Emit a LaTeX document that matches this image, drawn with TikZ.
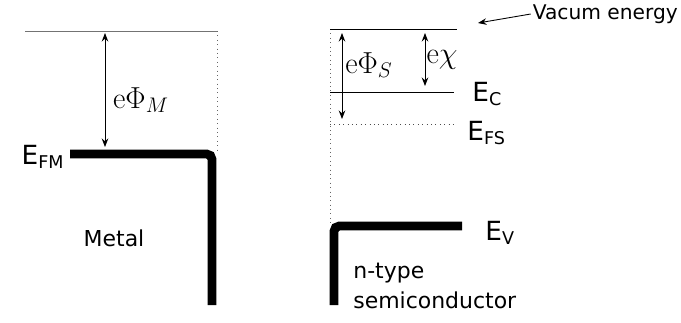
\documentclass[tikz,border=0pt]{standalone}
\usepackage[no-math]{fontspec}
\setmainfont{DejaVu Sans}
\usetikzlibrary{arrows.meta,positioning}

\begin{document}
\begin{tikzpicture}[
    x=0.02cm,
    y=-0.02cm,
    >={Stealth[length=1.7mm,width=1.3mm]},
    level/.style={draw=black, line width=0.5pt},
    band/.style={draw=black, line width=5pt, rounded corners=3},
    guide/.style={draw=black!60, dotted, line width=0.5pt},
    arr/.style={<->, line width=0.5pt},
    txt/.style={font=\fontsize{12.5}{14}\selectfont, inner sep=0pt},
    elab/.style={font=\fontsize{15}{17}\selectfont, inner sep=0pt},
    sym/.style={font=\fontsize{18}{20}\selectfont, inner sep=0pt}
]
\useasboundingbox (0,0) rectangle (681,322);

% metal side
\coordinate (vacML) at (25,31);
\coordinate (vacMR) at (217,31);
\coordinate (fmL) at (70,154);
\coordinate (fmC) at (212,154);
\coordinate (fmB) at (212,305);
\coordinate (phiMT) at (105,33);
\coordinate (phiMB) at (105,147);

\draw[level, draw=black!55] (vacML) -- (vacMR);
\draw[guide] (vacMR) -- (217,151);
\draw[band] (fmL) -- (fmC) -- (fmB);
\draw[arr] (phiMT) -- (phiMB);

\node[sym] (phiM) at (141,100) {$\mathrm{e}\Phi_M$};
\node[elab, anchor=east] (efm) at (64,157) {E{\fontsize{10}{11}\selectfont\raisebox{-0.4ex}{FM}}};
\node[txt] (metal) at (114,238) {Metal};

% semiconductor side
\coordinate (vacSL) at (330,29);
\coordinate (vacSR) at (457,29);
\coordinate (ecL) at (330,92);
\coordinate (ecR) at (454,92);
\coordinate (fsL) at (330,124);
\coordinate (fsR) at (456,124);
\coordinate (evR) at (462,226);
\coordinate (evC) at (334,226);
\coordinate (evB) at (334,305);
\coordinate (phiST) at (342,33);
\coordinate (phiSB) at (342,119);
\coordinate (chiT) at (425,33);
\coordinate (chiB) at (425,86);

\draw[guide] (vacSL) -- (330,223);
\draw[level] (vacSL) -- (vacSR);
\draw[level] (ecL) -- (ecR);
\draw[guide, draw=black!70] (fsL) -- (fsR);
\draw[band] (evR) -- (evC) -- (evB);
\draw[arr] (phiST) -- (phiSB);
\draw[arr] (chiT) -- (chiB);

\node[sym] (phiS) at (369,65) {$\mathrm{e}\Phi_S$};
\node[sym] (chi) at (442,60) {$\mathrm{e}\chi$};
\node[elab, anchor=west] (ec) at (472,94) {E{\fontsize{10}{11}\selectfont\raisebox{-0.4ex}{C}}};
\node[elab, anchor=west] (efs) at (467,133) {E{\fontsize{10}{11}\selectfont\raisebox{-0.4ex}{FS}}};
\node[elab, anchor=west] (ev) at (485,233) {E{\fontsize{10}{11}\selectfont\raisebox{-0.4ex}{V}}};
\node[txt, anchor=west] (ntype) at (353,273) {n-type};
\node[txt, anchor=west] (semi) at (353,300) {semiconductor};

% vacuum label
\node[txt, font=\fontsize{11.5}{13}\selectfont, anchor=east, inner sep=1pt] (vac) at (680,14) {Vacum energy};
\draw[->, line width=0.5pt] (vac.west) -- (478,23);

\end{tikzpicture}
\end{document}
